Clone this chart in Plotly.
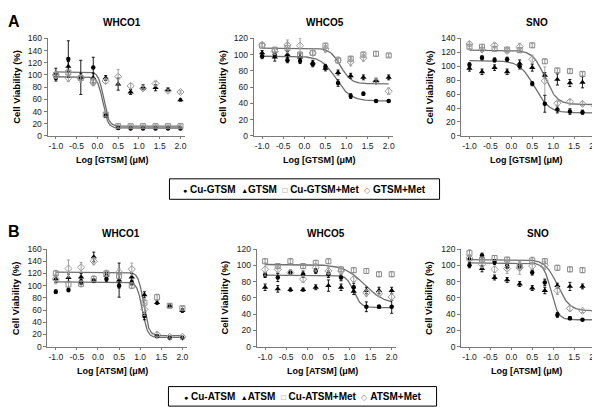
import numpy as np
import plotly.graph_objects as go

W, H = 600, 407

# ---------------- data ----------------
LOG_DOSE = [-1.0, -0.7, -0.4, -0.1, 0.2, 0.5, 0.8, 1.1, 1.4, 1.7, 2.0]
X_TICKS = [-1.0, -0.5, 0.0, 0.5, 1.0, 1.5, 2.0]

SERIES_A = ["Cu-GTSM", "GTSM", "Cu-GTSM+Met", "GTSM+Met"]
SERIES_B = ["Cu-ATSM", "ATSM", "Cu-ATSM+Met", "ATSM+Met"]
CELL_LINES = ["WHCO1", "WHCO5", "SNO"]

# Panel A (GTSM)
A1_CU = [95, 126, 97, 112, 33, 13, 12, 12, 12, 12, 12]
A1_DRUG = [103, 114, 96, 95, 95, 85, 72, 80, 79, 76, 59]
A1_CUMET = [100, 104, 95, 89, 35, 16, 16, 16, 16, 16, 16]
A1_MET = [100, 95, 94, 88, 90, 97, 82, 78, 86, 74, 72]
A1_CU_ERR = [5, 30, 5, 17, 3, 2, 1, 1, 1, 1, 1]
A1_DRUG_ERR = [8, 8, 28, 8, 4, 10, 4, 4, 5, 3, 2]
A1_CUMET_ERR = [4, 4, 4, 6, 3, 2, 2, 2, 2, 2, 2]
A1_MET_ERR = [6, 6, 6, 6, 4, 12, 4, 3, 3, 2, 2]

A2_CU = [98, 100, 93, 92, 88, 85, 65, 49, 52, 43, 43]
A2_DRUG = [102, 97, 100, 97, 90, 83, 78, 74, 72, 68, 72]
A2_CUMET = [111, 106, 108, 100, 102, 111, 93, 95, 100, 101, 99]
A2_MET = [112, 104, 112, 111, 102, 107, 93, 91, 96, 67, 55]
A2_CU_ERR = [3, 3, 3, 3, 3, 3, 4, 3, 2, 1, 1]
A2_DRUG_ERR = [3, 5, 4, 4, 3, 3, 3, 3, 3, 3, 3]
A2_CUMET_ERR = [3, 3, 6, 3, 3, 3, 3, 3, 3, 3, 2]
A2_MET_ERR = [3, 4, 6, 9, 3, 4, 4, 5, 4, 3, 4]

A3_CU = [102, 112, 109, 110, 100, 75, 46, 38, 35, 34, 33]
A3_DRUG = [97, 92, 98, 92, 104, 98, 87, 81, 76, 77, 68]
A3_CUMET = [128, 128, 125, 124, 123, 130, 107, 94, 93, 89, 88]
A3_MET = [132, 124, 130, 122, 128, 110, 79, 47, 49, 46, 42]
A3_CU_ERR = [3, 3, 3, 3, 4, 3, 12, 5, 4, 3, 2]
A3_DRUG_ERR = [4, 4, 4, 4, 5, 5, 4, 8, 5, 8, 8]
A3_CUMET_ERR = [3, 3, 3, 3, 3, 3, 3, 3, 3, 3, 3]
A3_MET_ERR = [3, 3, 3, 3, 5, 6, 20, 3, 3, 3, 3]

# Panel B (ATSM)
B1_CU = [90, 93, 106, 108, 111, 100, 105, 50, 17, 14, 14]
B1_DRUG = [111, 113, 114, 147, 117, 109, 114, 85, 72, 67, 59]
B1_CUMET = [120, 102, 103, 111, 120, 116, 100, 72, 81, 67, 63]
B1_MET = [111, 128, 130, 140, 120, 122, 127, 61, 20, 16, 16]
B1_CU_ERR = [3, 3, 4, 3, 4, 4, 4, 6, 2, 1, 1]
B1_DRUG_ERR = [6, 6, 6, 8, 4, 28, 6, 5, 3, 3, 3]
B1_CUMET_ERR = [5, 5, 5, 5, 4, 5, 5, 5, 5, 3, 3]
B1_MET_ERR = [8, 14, 8, 6, 5, 6, 10, 10, 3, 2, 2]

B2_CU = [88, 85, 91, 89, 93, 89, 85, 73, 49, 49, 49]
B2_DRUG = [73, 71, 70, 70, 73, 75, 73, 68, 69, 69, 69]
B2_CUMET = [105, 99, 105, 99, 103, 105, 95, 94, 93, 89, 89]
B2_MET = [95, 95, 91, 83, 97, 93, 93, 83, 66, 65, 61]
B2_CU_ERR = [3, 5, 3, 4, 3, 4, 4, 5, 6, 2, 8]
B2_DRUG_ERR = [4, 4, 2, 2, 3, 7, 4, 4, 4, 4, 4]
B2_CUMET_ERR = [3, 3, 3, 3, 3, 3, 3, 3, 3, 3, 3]
B2_MET_ERR = [8, 4, 3, 4, 5, 4, 4, 3, 4, 3, 4]

B3_CU = [100, 112, 104, 99, 99, 91, 79, 39, 35, 33, 33]
B3_DRUG = [108, 96, 85, 82, 77, 72, 69, 75, 74, 74, 79]
B3_CUMET = [115, 107, 109, 107, 99, 106, 105, 97, 95, 94, 91]
B3_MET = [109, 101, 95, 96, 97, 99, 100, 69, 47, 44, 44]
B3_CU_ERR = [3, 3, 3, 3, 3, 3, 4, 3, 2, 1, 1]
B3_DRUG_ERR = [4, 4, 3, 3, 3, 3, 4, 3, 5, 3, 3]
B3_CUMET_ERR = [4, 3, 3, 3, 5, 4, 3, 3, 3, 3, 3]
B3_MET_ERR = [4, 4, 4, 6, 8, 4, 5, 5, 3, 2, 3]

# fitted dose-response curves (two per panel): top, bottom, logEC50, hill slope
A1_FIT = {"top": [97, 105], "bottom": [13, 16], "logec50": [0.13, 0.15], "hill": [7, 7]}
A2_FIT = {"top": [98, 108], "bottom": [43, 64], "logec50": [0.75, 0.86], "hill": [2.5, 3.5]}
A3_FIT = {"top": [108, 123], "bottom": [33, 45], "logec50": [0.55, 0.8], "hill": [2.5, 3]}
B1_FIT = {"top": [106, 122], "bottom": [15, 18], "logec50": [1.05, 1.08], "hill": [7, 7]}
B2_FIT = {"top": [88, 101], "bottom": [48, 52], "logec50": [1.1, 1.35], "hill": [5, 1.8]}
B3_FIT = {"top": [103, 107], "bottom": [33, 44], "logec50": [0.95, 1.1], "hill": [5, 3]}

Y_MAX = {"A1": 160, "A2": 120, "A3": 140, "B1": 160, "B2": 120, "B3": 120}

# ---------------- layout geometry (pixels) ----------------
PANELS = {
    "A1": dict(x0=39.7, x1=177.2, y0=26, y1=126, data=(A1_CU, A1_DRUG, A1_CUMET, A1_MET),
               err=(A1_CU_ERR, A1_DRUG_ERR, A1_CUMET_ERR, A1_MET_ERR), fit=A1_FIT, title_x=114),
    "A2": dict(x0=246.5, x1=386.2, y0=26, y1=126, data=(A2_CU, A2_DRUG, A2_CUMET, A2_MET),
               err=(A2_CU_ERR, A2_DRUG_ERR, A2_CUMET_ERR, A2_MET_ERR), fit=A2_FIT, title_x=318),
    "A3": dict(x0=454.6, x1=593.2, y0=26, y1=126, data=(A3_CU, A3_DRUG, A3_CUMET, A3_MET),
               err=(A3_CU_ERR, A3_DRUG_ERR, A3_CUMET_ERR, A3_MET_ERR), fit=A3_FIT, title_x=531),
    "B1": dict(x0=39.5, x1=179.2, y0=242, y1=342, data=(B1_CU, B1_DRUG, B1_CUMET, B1_MET),
               err=(B1_CU_ERR, B1_DRUG_ERR, B1_CUMET_ERR, B1_MET_ERR), fit=B1_FIT, title_x=113),
    "B2": dict(x0=249.5, x1=389.2, y0=242, y1=342, data=(B2_CU, B2_DRUG, B2_CUMET, B2_MET),
               err=(B2_CU_ERR, B2_DRUG_ERR, B2_CUMET_ERR, B2_MET_ERR), fit=B2_FIT, title_x=319),
    "B3": dict(x0=454.6, x1=593.2, y0=242, y1=342, data=(B3_CU, B3_DRUG, B3_CUMET, B3_MET),
               err=(B3_CU_ERR, B3_DRUG_ERR, B3_CUMET_ERR, B3_MET_ERR), fit=B3_FIT, title_x=532),
}

FONT = "Liberation Sans, Arial, sans-serif"
AXIS_COLOR = "#7a7a7a"
CURVE_COLOR = "#6e6e6e"

MARKERS = [
    dict(symbol="circle", size=4.5, color="black"),
    dict(symbol="triangle-up", size=5.5, color="black"),
    dict(symbol="square-open", size=5, color="#8c8c8c", line=dict(width=1, color="#8c8c8c")),
    dict(symbol="diamond-open", size=5.5, color="#9a9a9a", line=dict(width=1, color="#9a9a9a")),
]
ERR_COLORS = ["black", "black", "#8c8c8c", "#9a9a9a"]


def px_x(p):
    return p / W


def px_y(p):
    return (H - p) / H


def logistic(x, top, bottom, c, h):
    return bottom + (top - bottom) / (1 + 10 ** ((x - c) * h))


fig = go.Figure()
layout = {}
annotations = []
shapes = []

curve_x = np.linspace(-1.0, 2.0, 400)

for i, (key, p) in enumerate(PANELS.items()):
    n = "" if i == 0 else str(i + 1)
    xa, ya = "x" + n, "y" + n
    series_names = SERIES_A if key.startswith("A") else SERIES_B

    fit = p["fit"]
    for k in range(2):
        fig.add_trace(go.Scatter(
            x=curve_x,
            y=logistic(curve_x, fit["top"][k], fit["bottom"][k], fit["logec50"][k], fit["hill"][k]),
            mode="lines", line=dict(color=CURVE_COLOR, width=1.3),
            xaxis=xa, yaxis=ya, showlegend=False, hoverinfo="skip"))

    for s in range(4):
        fig.add_trace(go.Scatter(
            x=LOG_DOSE, y=p["data"][s], mode="markers", name=series_names[s],
            marker=MARKERS[s],
            error_y=dict(type="data", array=p["err"][s], visible=True,
                         color=ERR_COLORS[s], thickness=0.9, width=1.5),
            xaxis=xa, yaxis=ya, showlegend=False, cliponaxis=False))

    layout["xaxis" + n] = dict(
        domain=[px_x(p["x0"]), px_x(p["x1"])], anchor=ya, range=[-1.2, 2.1],
        tickvals=X_TICKS, ticktext=[f"{v:.1f}" for v in X_TICKS],
        showline=True, linecolor=AXIS_COLOR, linewidth=1, ticks="outside", ticklen=2,
        tickcolor=AXIS_COLOR, showgrid=False, zeroline=False,
        tickfont=dict(family=FONT, size=8.5, color="#1a1a1a"))
    layout["yaxis" + n] = dict(
        domain=[px_y(p["y1"]), px_y(p["y0"])], anchor=xa, range=[0, Y_MAX[key]],
        dtick=20, showline=True, linecolor=AXIS_COLOR, linewidth=1, ticks="outside",
        ticklen=3, tickcolor=AXIS_COLOR, showgrid=False, zeroline=False,
        tickfont=dict(family=FONT, size=8.5, color="#1a1a1a"))

    # panel title
    cell = CELL_LINES[int(key[1]) - 1]
    annotations.append(dict(text=f"<b>{cell}</b>", x=px_x(p["title_x"]), y=px_y(p["y0"] - 16),
                            xref="paper", yref="paper", showarrow=False,
                            font=dict(family=FONT, size=10, color="black"),
                            xanchor="center", yanchor="middle"))
    # y title
    annotations.append(dict(text="<b>Cell Viability (%)</b>", x=px_x(p["x0"] - 32),
                            y=px_y((p["y0"] + p["y1"]) / 2), xref="paper", yref="paper",
                            showarrow=False, textangle=-90,
                            font=dict(family=FONT, size=9.5, color="black"),
                            xanchor="center", yanchor="middle"))
    # x title
    drug = "GTSM" if key.startswith("A") else "ATSM"
    annotations.append(dict(text=f"<b>Log [{drug}] (\u03bcM)</b>",
                            x=px_x((p["x0"] + p["x1"]) / 2 - 4), y=px_y(p["y1"] + 25),
                            xref="paper", yref="paper", showarrow=False,
                            font=dict(family=FONT, size=9, color="black"),
                            xanchor="center", yanchor="middle"))

# panel letters
for letter, yy in (("A", 9), ("B", 224)):
    annotations.append(dict(text=f"<b>{letter}</b>", x=px_x(6), y=px_y(yy), xref="paper",
                            yref="paper", showarrow=False,
                            font=dict(family=FONT, size=16, color="black"),
                            xanchor="center", yanchor="middle"))

# legends (boxed)
LEG_BOXES = [(SERIES_A, 162, 433, 170, 191), (SERIES_B, 161, 430, 383, 403)]
for names, lx0, lx1, ly0, ly1 in LEG_BOXES:
    shapes.append(dict(type="rect", xref="paper", yref="paper",
                       x0=px_x(lx0), x1=px_x(lx1), y0=px_y(ly1), y1=px_y(ly0),
                       line=dict(color="black", width=1), fillcolor="white"))
    sym = [
        '<span style="font-size:7px">\u25cf</span>',
        '<span style="font-size:7px">\u25b2</span>',
        '<span style="font-size:8px;color:#777">\u25a1</span>',
        '<span style="font-size:8px;color:#888">\u25c7</span>',
    ]
    txt = (f"{sym[0]} <b>{names[0]}</b>  {sym[1]}<b>{names[1]}</b>  "
           f"{sym[2]} <b>{names[2]}</b>  {sym[3]} <b>{names[3]}</b>")
    annotations.append(dict(text=txt, x=px_x((lx0 + lx1) / 2), y=px_y((ly0 + ly1) / 2),
                            xref="paper", yref="paper", showarrow=False,
                            font=dict(family=FONT, size=10, color="black"),
                            xanchor="center", yanchor="middle"))

fig.update_layout(
    width=W, height=H, margin=dict(l=0, r=0, t=0, b=0),
    paper_bgcolor="white", plot_bgcolor="white", showlegend=False,
    annotations=annotations, shapes=shapes, **layout)

fig.write_html("out.html")
